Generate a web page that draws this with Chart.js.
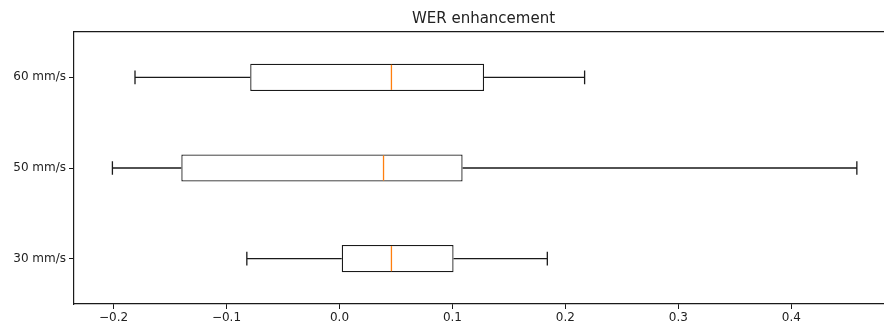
<!DOCTYPE html>
<html>
<head>
<meta charset="utf-8">
<script src="https://cdn.jsdelivr.net/npm/chart.js@4"></script>
<style>
  html, body { margin: 0; padding: 0; background: #fff; overflow: hidden; }
  #wrap { width: 900px; height: 329px; }
</style>
</head>
<body>
<div id="wrap"><canvas id="box"></canvas></div>
<script>
// top row first
const speeds = ["60 mm/s", "50 mm/s", "30 mm/s"];
const whiskerLow = [-0.181, -0.201, -0.082];
const q1 = [-0.079, -0.140, 0.002];
const median = [0.046, 0.039, 0.046];
const q3 = [0.128, 0.109, 0.101];
const whiskerHigh = [0.217, 0.458, 0.184];

const INK = "#1a1a1a";
const FONT = "'DejaVu Sans', sans-serif";

// whiskers, caps and medians, placed with the chart's own scales
const boxExtras = {
  id: "boxExtras",
  afterDatasetsDraw(chart) {
    const ctx = chart.ctx;
    const xs = chart.scales.x;
    const ys = chart.scales.y;
    const bars = chart.getDatasetMeta(0).data;
    ctx.save();
    ctx.lineWidth = 1.3;
    speeds.forEach((s, i) => {
      const y = ys.getPixelForValue(i);
      const half = bars[i].height / 2;
      const cap = half / 2;
      const xl = xs.getPixelForValue(whiskerLow[i]);
      const xq1 = xs.getPixelForValue(q1[i]);
      const xq3 = xs.getPixelForValue(q3[i]);
      const xh = xs.getPixelForValue(whiskerHigh[i]);
      const xm = xs.getPixelForValue(median[i]);
      ctx.strokeStyle = INK;
      ctx.beginPath();
      ctx.moveTo(xl, y); ctx.lineTo(xq1, y);
      ctx.moveTo(xq3, y); ctx.lineTo(xh, y);
      ctx.moveTo(xl, y - cap); ctx.lineTo(xl, y + cap);
      ctx.moveTo(xh, y - cap); ctx.lineTo(xh, y + cap);
      ctx.stroke();
      ctx.strokeStyle = "#ff7f0e";
      ctx.beginPath();
      ctx.moveTo(xm, y - half + 1); ctx.lineTo(xm, y + half - 1);
      ctx.stroke();
    });
    ctx.restore();
  },
};

new Chart(document.getElementById("box"), {
  type: "bar",
  data: {
    labels: speeds,
    datasets: [
      {
        data: speeds.map((s, i) => [q1[i], q3[i]]),
        backgroundColor: "#ffffff",
        borderColor: INK,
        borderWidth: 1.3,
        borderSkipped: false,
        barPercentage: 0.3,
        categoryPercentage: 1,
      },
    ],
  },
  options: {
    indexAxis: "y",
    responsive: true,
    maintainAspectRatio: false,
    animation: false,
    layout: { padding: { left: 0, right: 7, top: 0, bottom: 0 } },
    scales: {
      x: {
        position: "bottom",
        min: -0.235,
        max: 0.49,
        afterFit: (scale) => { scale.height = 25; },
        ticks: {
          stepSize: 0.1,
          includeBounds: false,
          autoSkip: false,
          maxRotation: 0,
          padding: 2,
          color: "#222",
          font: { family: FONT, size: 12 },
          callback: (v) => Number(v).toFixed(1).replace("-", "\u2212"),
        },
        grid: { drawOnChartArea: false, drawTicks: true, tickLength: 5, color: INK },
        border: { display: true, color: INK, width: 1.2 },
      },
      xTop: {
        position: "top",
        min: -0.235,
        max: 0.49,
        afterFit: (scale) => { scale.height = 0; },
        ticks: { display: false },
        grid: { display: false, drawTicks: false },
        border: { display: true, color: INK, width: 1.2 },
      },
      y: {
        offset: true,
        afterFit: (scale) => { scale.width = 74; },
        ticks: {
          padding: 3,
          color: "#222",
          font: { family: FONT, size: 12 },
        },
        grid: { drawOnChartArea: false, drawTicks: true, tickLength: 5, color: INK, offset: false },
        border: { display: true, color: INK, width: 1.2 },
      },
    },
    plugins: {
      legend: { display: false },
      tooltip: { enabled: false },
      title: {
        display: true,
        fullSize: false,
        text: "WER enhancement",
        color: "#222",
        font: { family: FONT, size: 15, weight: "normal" },
        padding: { top: 10.5, bottom: 3.5 },
      },
    },
  },
  plugins: [boxExtras],
});
</script>
</body>
</html>
